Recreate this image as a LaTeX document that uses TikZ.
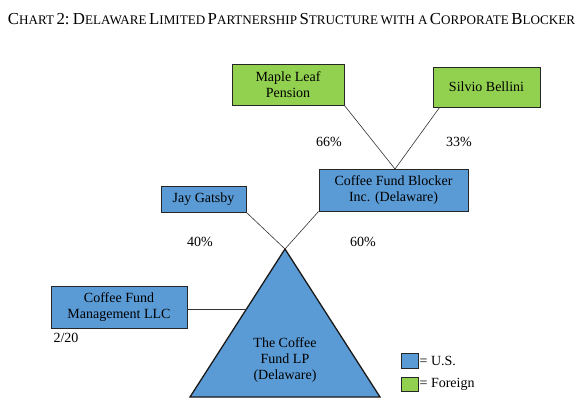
\documentclass[tikz,border=0pt]{standalone}
\usepackage{fontspec}
\setmainfont{Liberation Serif}
\usetikzlibrary{calc}
\definecolor{usblue}{HTML}{5B9BD5}
\definecolor{forgreen}{HTML}{92D050}
\newcommand\ScA[2]{{\fontsize{16.8}{18}\selectfont #1}{\fontsize{13.1}{18}\selectfont #2}}
\newcommand\ScB[1]{{\fontsize{13.1}{18}\selectfont #1}}
\begin{document}
\begin{tikzpicture}[x=1pt,y=-1pt,
  ent/.style={draw=black!85,line width=0.8pt,align=center,inner sep=0pt,
    font=\fontsize{14}{16}\selectfont},
  usbox/.style={ent,fill=usblue},
  fbox/.style={ent,fill=forgreen},
  link/.style={draw=black!80,line width=0.6pt},
  pct/.style={font=\fontsize{14}{16}\selectfont}]
\useasboundingbox (0,0) rectangle (583,400);
\node[inner sep=0pt] (title) at (291.5,19) {\ScA{C}{HART} {\fontsize{16.8}{18}\selectfont 2:} \ScA{D}{ELAWARE} \ScA{L}{IMITED} \ScA{P}{ARTNERSHIP} \ScA{S}{TRUCTURE} \ScB{WITH A} \ScA{C}{ORPORATE} \ScA{B}{LOCKER}};
% boxes
\node[fbox,minimum width=112pt,minimum height=41pt] (maple) at (288,84.5) {Maple Leaf\\Pension};
\node[fbox,minimum width=107pt,minimum height=40pt] (silvio) at (486.5,87) {Silvio Bellini};
\node[usbox,minimum width=149pt,minimum height=42pt] (blocker) at (393.5,190) {Coffee Fund Blocker\\Inc. (Delaware)};
\node[usbox,minimum width=85pt,minimum height=26pt] (jay) at (203.5,199) {Jay Gatsby};
\node[usbox,minimum width=136pt,minimum height=42pt] (mgmt) at (119,307) {Coffee Fund\\Management LLC};
% triangle
\coordinate (apex) at (285,249);
\coordinate (bl) at (190,397);
\coordinate (br) at (380,397);
\coordinate (edge) at (246.5,309);
\filldraw[fill=usblue,draw=black!90,line width=1.3pt] (apex) -- (br) -- (bl) -- cycle;
\node[align=center,font=\fontsize{14}{16}\selectfont] (lp) at (285,360) {The Coffee\\Fund LP\\(Delaware)};
% connectors
\coordinate (blocktop) at (395,169);
\draw[link] (maple.south east) -- (blocktop);
\draw[link] ($(silvio.south west)+(7,0)$) -- (blocktop);
\draw[link] (jay.south east) -- (apex);
\draw[link] (blocker.south west) -- (apex);
\draw[link] (mgmt.east |- edge) -- (edge);
% labels
\node[pct] (p66) at (329,142) {66\%};
\node[pct] (p33) at (459,142) {33\%};
\node[pct] (p40) at (200,242) {40\%};
\node[pct] (p60) at (363,242) {60\%};
\node[pct] (p220) at (66,338) {2/20};
% legend
\node[draw=black!85,line width=0.8pt,fill=usblue,minimum width=17pt,minimum height=15pt,inner sep=0pt] (lus) at (409.5,360.5) {};
\node[draw=black!85,line width=0.8pt,fill=forgreen,minimum width=17pt,minimum height=14pt,inner sep=0pt] (lfor) at (409.5,384) {};
\node[pct,anchor=west,inner sep=1pt] (tus) at (lus.east) {= U.S.};
\node[pct,anchor=west,inner sep=1pt] (tfor) at (lfor.east) {= Foreign};
\end{tikzpicture}
\end{document}
